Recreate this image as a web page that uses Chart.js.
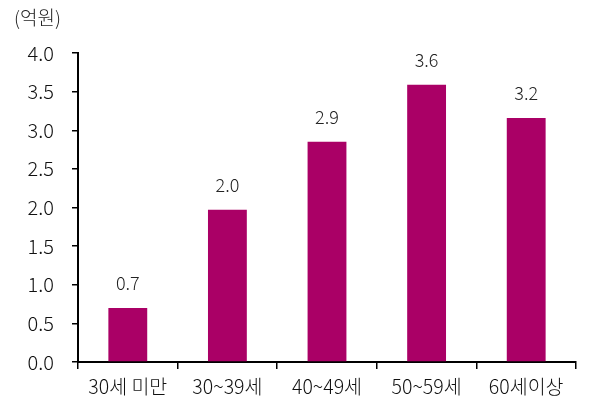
<!DOCTYPE html>
<html>
<head>
<meta charset="utf-8">
<script src="https://cdn.jsdelivr.net/npm/chart.js@4/dist/chart.umd.min.js"></script>
<style>
  html, body { margin: 0; padding: 0; background: #fff; }
  #wrap { width: 605px; height: 400px; position: relative; }
</style>
</head>
<body>
<div id="wrap"><canvas id="ageChart"></canvas></div>
<script>
// 연령대별 값 (억원)
const categories = ['30세 미만', '30~39세', '40~49세', '50~59세', '60세이상'];
const values = [0.7, 1.97, 2.85, 3.59, 3.16];
const unitLabel = '(억원)';
const barColor = '#AA0066';
const fontFamily = '"Noto Sans CJK KR", "Noto Sans", sans-serif';

// 막대 위 값 표시 + 단위 표시
const labelPlugin = {
    id: 'valueLabels',
    afterDatasetsDraw(chart) {
        const ctx = chart.ctx;
        const meta = chart.getDatasetMeta(0);
        ctx.save();
        ctx.font = '300 18px ' + fontFamily;
        ctx.fillStyle = '#222';
        ctx.textAlign = 'center';
        ctx.textBaseline = 'middle';
        meta.data.forEach((bar, i) => {
            ctx.fillText(values[i].toFixed(1), bar.x, bar.y - 25);
        });
        ctx.font = '300 19px ' + fontFamily;
        ctx.textAlign = 'left';
        ctx.fillText(unitLabel, 14, 18);
        ctx.restore();
    }
};

const ctx = document.getElementById('ageChart').getContext('2d');
new Chart(ctx, {
    type: 'bar',
    data: {
        labels: categories,
        datasets: [{
            data: values,
            backgroundColor: barColor,
            borderWidth: 0,
            barPercentage: 0.39,
            categoryPercentage: 1.0
        }]
    },
    options: {
        responsive: true,
        maintainAspectRatio: false,
        animation: false,
        layout: { padding: { top: 53, right: 29, left: 0, bottom: 0 } },
        plugins: {
            legend: { display: false },
            tooltip: { enabled: false }
        },
        scales: {
            x: {
                grid: { drawOnChartArea: false, drawTicks: true, tickLength: 7, color: '#000', lineWidth: 1.5, offset: true },
                border: { color: '#000', width: 2 },
                ticks: { color: '#111', font: { family: fontFamily, size: 19.5, weight: '300' }, padding: 6 },
                afterFit(scale) { scale.height = 38; }
            },
            y: {
                min: 0,
                max: 4,
                grid: { drawOnChartArea: false, drawTicks: true, tickLength: 6, color: '#000', lineWidth: 1.5 },
                border: { color: '#000', width: 2 },
                ticks: {
                    stepSize: 0.5,
                    color: '#111',
                    font: { family: fontFamily, size: 20, weight: '300' },
                    padding: 18,
                    callback: v => v.toFixed(1)
                },
                afterFit(scale) { scale.width = 78; }
            }
        }
    },
    plugins: [labelPlugin]
});
</script>
</body>
</html>
